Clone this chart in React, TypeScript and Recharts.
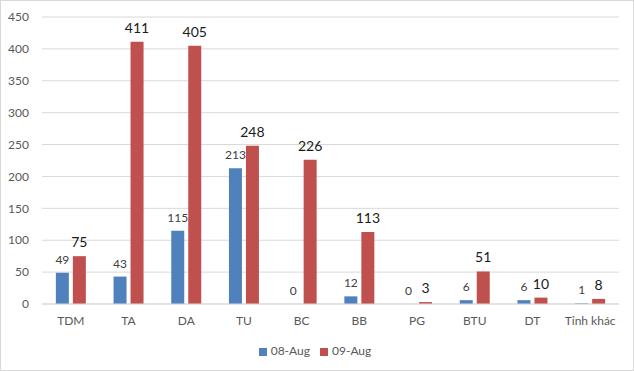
import React from "react";
import { BarChart, Bar, XAxis, YAxis, CartesianGrid, Legend, LabelList } from "recharts";

const categories = ["TDM", "TA", "DA", "TU", "BC", "BB", "PG", "BTU", "DT", "Tỉnh khác"];
const aug08 = [49, 43, 115, 213, 0, 12, 0, 6, 6, 1];
const aug09 = [75, 411, 405, 248, 226, 113, 3, 51, 10, 8];
const yTicks = [0, 50, 100, 150, 200, 250, 300, 350, 400, 450];

const data = categories.map((c, i) => ({ name: c, a: aug08[i], b: aug09[i] }));

const FONT = "Lato, 'Noto Sans', sans-serif";

export default function App() {
  return (
    <div
      style={{
        position: "absolute",
        left: 0,
        top: 0,
        width: 634,
        height: 371,
        background: "#fff",
        boxSizing: "border-box",
        border: "1px solid #d9d9d9",
        fontFamily: FONT,
      }}
    >
      <div style={{ position: "absolute", left: -1, top: -1 }}>
        <BarChart
          width={634}
          height={371}
          data={data}
          margin={{ top: 17, right: 15, left: 0, bottom: 0 }}
          barCategoryGap="24%"
          barGap={4}
        >
          <CartesianGrid vertical={false} stroke="#d9d9d9" />
          <XAxis
            dataKey="name"
            height={22}
            tickSize={0}
            tickMargin={12}
            axisLine={{ stroke: "#d9d9d9" }}
            tickLine={false}
            tick={{ fill: "#595959", fontSize: 12, fontFamily: FONT }}
            interval={0}
          />
          <YAxis
            width={42}
            domain={[0, 450]}
            ticks={yTicks}
            tickSize={0}
            tickMargin={13}
            axisLine={false}
            tickLine={false}
            tick={{ fill: "#595959", fontSize: 12, fontFamily: FONT }}
          />
          <Legend
            verticalAlign="bottom"
            height={45}
            iconType="square"
            iconSize={8}
            wrapperStyle={{ top: 343, left: 16, width: 608, fontSize: 12, fontFamily: FONT }}
            formatter={(v) => <span style={{ color: "#595959" }}>{v}</span>}
          />
          <Bar
            dataKey="a"
            name="08-Aug"
            fill="#4F81BD"
            isAnimationActive={false}
            minPointSize={(v: number) => (v === 0 ? 0.01 : 0)}
          >
            <LabelList
              dataKey="a"
              position="top"
              offset={9}
              style={{ fill: "#404040", fontSize: 12, fontFamily: FONT, fontWeight: 400 }}
            />
          </Bar>
          <Bar dataKey="b" name="09-Aug" fill="#C0504D" isAnimationActive={false}>
            <LabelList
              dataKey="b"
              position="top"
              offset={9}
              style={{ fill: "#1a1a1a", fontSize: 14, fontFamily: FONT, fontWeight: 400 }}
            />
          </Bar>
        </BarChart>
      </div>
    </div>
  );
}
